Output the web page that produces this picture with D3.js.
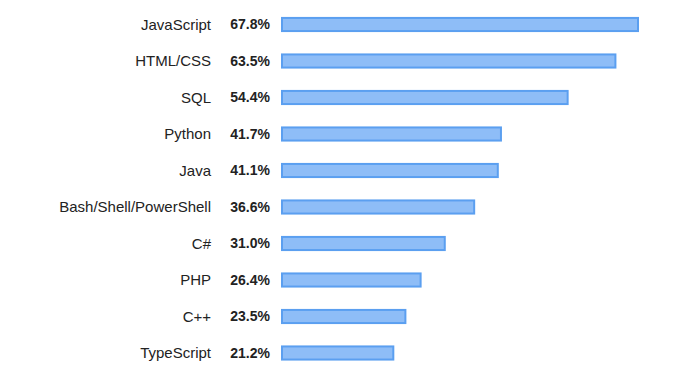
<!DOCTYPE html>
<html><head><meta charset="utf-8">
<script src="https://cdn.jsdelivr.net/npm/d3@7"></script>
<style>body{margin:0;background:#fff;} svg{display:block;}</style>
</head><body>
<script>
const languages = ["JavaScript","HTML/CSS","SQL","Python","Java","Bash/Shell/PowerShell","C#","PHP","C++","TypeScript"];
const percents = [67.8,63.5,54.4,41.7,41.1,36.6,31.0,26.4,23.5,21.2];

const W = 700, H = 370;
const svg = d3.select("body").append("svg").attr("width", W).attr("height", H);
const x = d3.scaleLinear().domain([0, 67.8]).range([282, 638]);
const y = d3.scaleBand().domain(languages).range([6.25, 371.25]).paddingInner(0.64).paddingOuter(0.32);
const font = "'Liberation Sans', Arial, sans-serif";

const rows = svg.selectAll("g.row").data(languages).enter().append("g").attr("class","row");
rows.append("rect")
  .attr("x", x(0))
  .attr("y", d => y(d))
  .attr("width", (d,i) => x(percents[i]) - x(0))
  .attr("height", y.bandwidth())
  .attr("fill", "#8ebdf7")
  .attr("stroke", "#5b9ff0")
  .attr("stroke-width", 2);
rows.append("text")
  .attr("x", 211).attr("y", d => y(d) + y.bandwidth()/2)
  .attr("dy", "0.35em").attr("text-anchor","end")
  .attr("font-family", font).attr("font-size", 15).attr("fill","#222")
  .text(d => d);
rows.append("text")
  .attr("x", 270).attr("y", d => y(d) + y.bandwidth()/2)
  .attr("dy", "0.35em").attr("text-anchor","end")
  .attr("font-family", font).attr("font-size", 14).attr("font-weight","bold").attr("fill","#222")
  .text((d,i) => percents[i].toFixed(1) + "%");
</script>
</body></html>
